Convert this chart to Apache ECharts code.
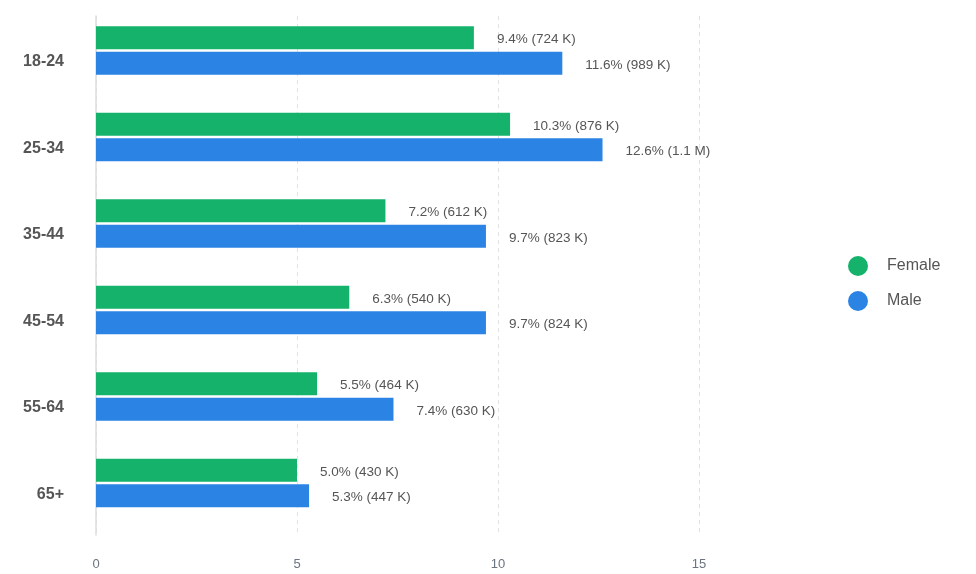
<!DOCTYPE html>
<html>
<head>
<meta charset="utf-8">
<script src="https://cdn.jsdelivr.net/npm/echarts@6/dist/echarts.min.js"></script>
<style>html,body{margin:0;padding:0;background:#fff}#c{width:976px;height:574px}</style>
</head>
<body>
<div id="c"></div>
<script>
const categories = ['18-24', '25-34', '35-44', '45-54', '55-64', '65+'];
const femalePct = [9.4, 10.3, 7.2, 6.3, 5.5, 5.0];
const femaleCount = ['724 K', '876 K', '612 K', '540 K', '464 K', '430 K'];
const malePct = [11.6, 12.6, 9.7, 9.7, 7.4, 5.3];
const maleCount = ['989 K', '1.1 M', '823 K', '824 K', '630 K', '447 K'];
const xTicks = [0, 5, 10, 15];

const FONT = '"Liberation Sans", Arial, Helvetica, sans-serif';
const chart = echarts.init(document.getElementById('c'));

function lbl(counts) {
  return {
    show: true, position: 'right', distance: 23, offset: [0, 2],
    color: '#555', fontSize: 13.5, fontFamily: FONT,
    formatter: p => p.value.toFixed(1) + '% (' + counts[p.dataIndex] + ')'
  };
}

chart.setOption({
  animation: false,
  textStyle: { fontFamily: FONT },
  grid: { left: 96, right: 277, top: 16, bottom: 39 },
  legend: {
    orient: 'vertical', left: 843, top: 251,
    data: ['Female', 'Male'],
    icon: 'circle', itemWidth: 20, itemHeight: 20, itemGap: 15,
    textStyle: { color: '#555', fontSize: 16, fontFamily: FONT, padding: [0, 0, 0, 14] }
  },
  xAxis: {
    type: 'value', min: xTicks[0], max: xTicks[xTicks.length - 1], interval: 5,
    axisLine: { show: false }, axisTick: { show: false },
    axisLabel: { color: '#6b7480', fontSize: 13, margin: 23, fontFamily: FONT },
    splitLine: { show: true, lineStyle: { color: '#e2e2e2', type: [4, 4], width: 1 } }
  },
  yAxis: {
    type: 'category', inverse: true, data: categories,
    axisLine: { show: true, lineStyle: { color: '#dcdcdc', width: 1.5 } },
    axisTick: { show: false },
    axisLabel: { color: '#555', fontSize: 16, fontWeight: 'bold', margin: 32, fontFamily: FONT,
      formatter: v => '{a|' + v + '}',
      rich: { a: { color: '#555', fontSize: 16, fontWeight: 'bold', fontFamily: FONT, padding: [5, 0, 0, 0] } } }
  },
  series: [
    { name: 'Female', type: 'bar', data: femalePct, barWidth: 23, barGap: '11%',
      itemStyle: { color: '#15b26b' }, label: lbl(femaleCount) },
    { name: 'Male', type: 'bar', data: malePct, barWidth: 23, barGap: '11%',
      itemStyle: { color: '#2b84e4' }, label: lbl(maleCount) },
    { name: '_spacer', type: 'bar', data: categories.map(() => 0), barWidth: 15, barGap: '11%',
      itemStyle: { color: 'rgba(0,0,0,0)' }, silent: true, tooltip: { show: false } }
  ]
});
</script>
</body>
</html>
